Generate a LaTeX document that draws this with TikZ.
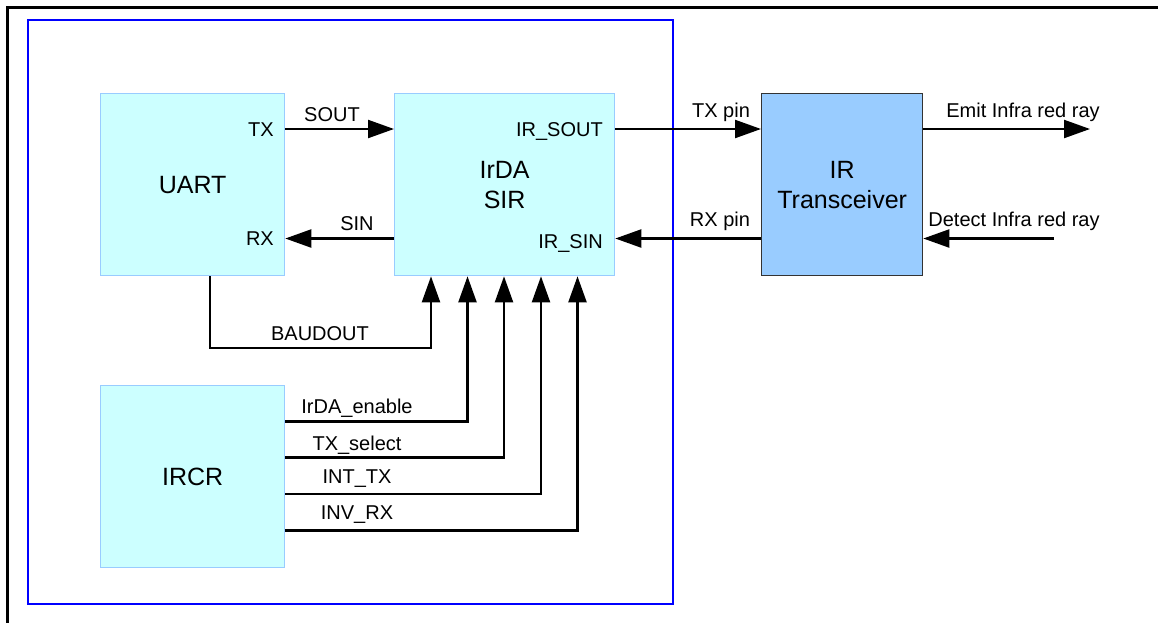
\documentclass[tikz,border=0pt]{standalone}
\usepackage{fontspec}
\setmainfont{Liberation Sans}
\usetikzlibrary{arrows.meta}
\definecolor{lcyan}{HTML}{CCFFFF}
\definecolor{lblue}{HTML}{99CCFF}
\definecolor{bblue}{HTML}{0000FF}
\begin{document}
\begin{tikzpicture}[x=1pt,y=-1pt,
  cbox/.style={draw=lblue,fill=lcyan,line width=1.3pt,anchor=north west,minimum width=184pt,minimum height=182pt,inner sep=0pt,font=\fontsize{25}{30}\selectfont,align=center},
  xbox/.style={draw=black!80,fill=lblue,line width=1.3pt,anchor=north west,minimum width=161pt,minimum height=182pt,inner sep=0pt,font=\fontsize{25}{30}\selectfont,align=center},
  wire/.style={line width=2.2pt,draw=black},
  arr/.style={wire,-{Triangle[length=26pt,width=18pt]}},
  lbl/.style={inner sep=0pt,anchor=base,font=\fontsize{20}{24}\selectfont},
  lble/.style={lbl,anchor=base east}]
\useasboundingbox (0,0) rectangle (1158,622);
% outer border
\coordinate (ob1) at (7.5,630);
\coordinate (ob2) at (7.5,7.5);
\coordinate (ob3) at (1165,7.5);
\draw[line width=2.2pt] (ob1) -- (ob2) -- (ob3);
% blue frame
\coordinate (bf1) at (27.5,19.5);
\coordinate (bf2) at (673,604);
\draw[bblue,line width=2pt] (bf1) rectangle (bf2);
% blocks
\node[cbox] (uart) at (100,93) {UART};
\node[cbox,minimum width=220pt] (sir) at (394,93) {IrDA\\SIR};
\node[xbox] (xcvr) at (761,93) {IR\\Transceiver};
\node[cbox] (ircr) at (100,385) {IRCR};
% port labels
\node[lble] (ltx) at (274,136) {TX};
\node[lble] (lrx) at (274,245) {RX};
\node[lble] (lirsout) at (603,136) {IR\_SOUT};
\node[lble] (lirsin) at (603,248) {IR\_SIN};
% connector points
\coordinate (uTX) at (uart.east |- 0,129);
\coordinate (uRX) at (uart.east |- 0,238.5);
\coordinate (sTX) at (sir.west |- 0,129);
\coordinate (sRX) at (sir.west |- 0,238.5);
\coordinate (soTX) at (sir.east |- 0,129);
\coordinate (soRX) at (sir.east |- 0,238.5);
\coordinate (xTX) at (xcvr.west |- 0,129);
\coordinate (xRX) at (xcvr.west |- 0,238.5);
\coordinate (xoTX) at (xcvr.east |- 0,129);
\coordinate (xoRX) at (xcvr.east |- 0,238.5);
\coordinate (emit) at (1090,129);
\coordinate (detect) at (1054,238.5);
% horizontal arrows
\draw[arr] (uTX) -- (sTX);
\node[lbl] (lsout) at (332,121) {SOUT};
\draw[arr] (sRX) -- (uRX);
\node[lbl] (lsin) at (357,230.5) {SIN};
\draw[arr] (soTX) -- (xTX);
\draw[arr] (xRX) -- (soRX);
\node[lbl] (ltxpin) at (721,117) {TX pin};
\node[lbl] (lrxpin) at (720,226.5) {RX pin};
\draw[arr] (xoTX) -- (emit);
\draw[arr] (detect) -- (xoRX);
\node[lbl] (lemit) at (1023,117) {Emit Infra red ray};
\node[lbl] (ldetect) at (1014,226.5) {Detect Infra red ray};
% BAUDOUT
\coordinate (bd1) at (uart.south -| 210,0);
\coordinate (bd2) at (210,348);
\coordinate (bd3) at (431,348);
\coordinate (bd4) at (sir.south -| 431,0);
\draw[arr] (bd1) -- (bd2) -- (bd3) -- (bd4);
\node[lbl] (lbaud) at (320,340) {BAUDOUT};
% IRCR signals
\foreach \nm/\y/\x/\t/\b in {en/421.5/467.5/IrDA\_enable/413,ts/457.5/504/TX\_select/450,it/494/541/INT\_TX/483,iv/530.5/577.5/INV\_RX/519}{
  \coordinate (\nm a) at (ircr.east |- 0,\y);
  \coordinate (\nm b) at (\x,\y);
  \coordinate (\nm c) at (sir.south -| \x,0);
  \draw[arr] (\nm a) -- (\nm b) -- (\nm c);
  \node[lbl] (l\nm) at (357,\b) {\t};
}
\end{tikzpicture}
\end{document}
